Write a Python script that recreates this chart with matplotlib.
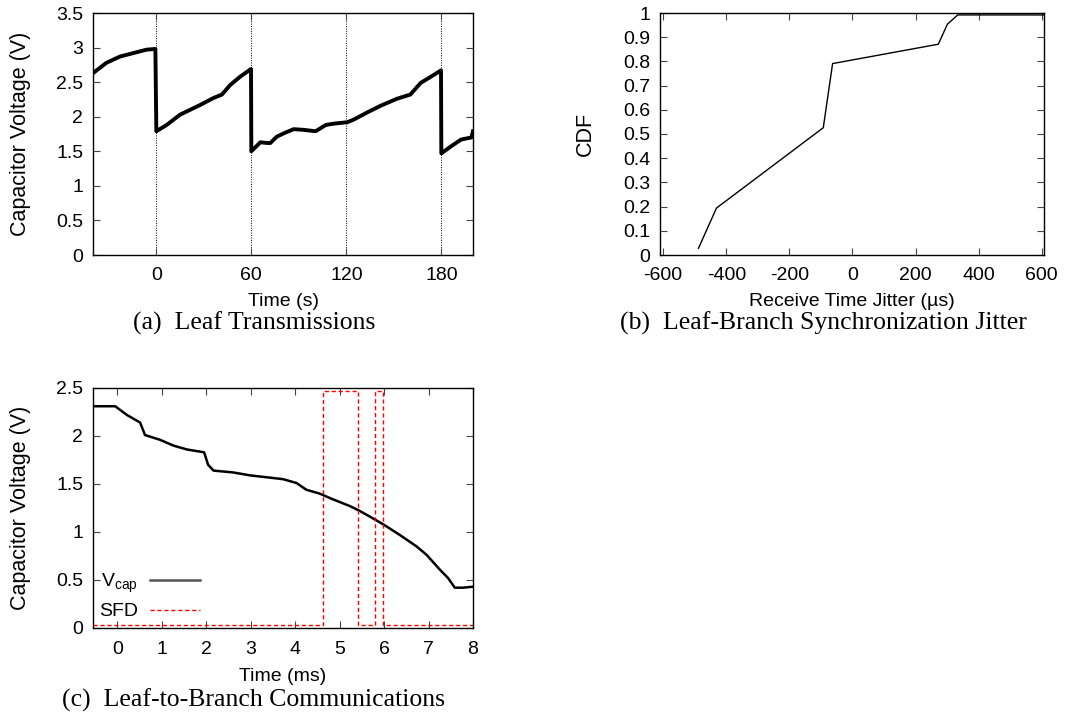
import numpy as np
import matplotlib
matplotlib.use('Agg')
import matplotlib.pyplot as plt

plt.rcParams['font.family'] = ['Liberation Sans', 'DejaVu Sans']
plt.rcParams['axes.unicode_minus'] = False
plt.rcParams['mathtext.fontset'] = 'custom'
plt.rcParams['mathtext.rm'] = 'Liberation Sans'

# (a) leaf transmissions: capacitor voltage vs time (s)
a_time = [-40, -31.5, -23, -14.6, -6.1, -0.6, 0, 6.5, 15, 27.7, 36, 41.4, 46.7, 53, 59.8,
          60, 65.7, 70, 72, 76, 80.5, 86.8, 93, 100.6, 107, 112, 120.6, 124.8, 133, 141.8,
          152, 160.4, 167, 173.5, 179.8, 180, 186, 192.5, 199, 200]
a_volt = [2.63, 2.78, 2.87, 2.92, 2.97, 2.98, 1.79, 1.88, 2.03, 2.17, 2.27, 2.32, 2.46, 2.58, 2.69,
          1.50, 1.63, 1.62, 1.62, 1.71, 1.76, 1.82, 1.81, 1.79, 1.88, 1.90, 1.92, 1.96, 2.06, 2.16,
          2.26, 2.32, 2.49, 2.58, 2.67, 1.47, 1.57, 1.67, 1.70, 1.79]
a_xticks = [0, 60, 120, 180]

# (b) CDF of receive time jitter (us)
b_jitter = [-488, -431, -92.5, -63, 272, 301, 333.5, 607]
b_cdf = [0.028, 0.194, 0.526, 0.791, 0.871, 0.954, 0.992, 0.992]

# (c) leaf-to-branch communications (ms)
c_time = [-0.55, -0.05, 0.21, 0.51, 0.62, 0.96, 1.26, 1.56, 1.95, 2.04, 2.16, 2.61, 2.98, 3.36,
          3.73, 4.03, 4.25, 4.55, 4.85, 5.23, 5.45, 5.68, 5.98, 6.35, 6.73, 6.96, 7.25, 7.44,
          7.59, 7.78, 8.0]
c_vcap = [2.31, 2.31, 2.22, 2.14, 2.01, 1.96, 1.90, 1.86, 1.83, 1.70, 1.64, 1.62, 1.59, 1.57,
          1.55, 1.51, 1.44, 1.40, 1.34, 1.27, 1.22, 1.16, 1.08, 0.97, 0.85, 0.76, 0.61, 0.52,
          0.42, 0.42, 0.43]
sfd_time = [-0.55, 4.62, 4.62, 5.42, 5.42, 5.79, 5.79, 5.98, 5.98, 8.0]
sfd_volt = [0.035, 0.035, 2.465, 2.465, 0.035, 0.035, 2.465, 2.465, 0.035, 0.035]

W, H = 1073, 715
fig = plt.figure(figsize=(W / 100, H / 100), dpi=100)
FS = 14

def px_axes(l, t, r, b):
    return fig.add_axes([l / W, 1 - b / H, (r - l) / W, (b - t) / H])

def gp_style(ax):
    ax.tick_params(direction='in', top=True, right=True, length=5, width=0.8,
                   labelsize=FS, color='#444444')
    ax.tick_params(axis='x', pad=9)
    ax.tick_params(axis='y', pad=7)
    for s in ax.spines.values():
        s.set_linewidth(1.0)

def labels(ax, xl, yl, xy, yx):
    ax.set_xlabel(xl, fontsize=FS, va='center')
    ax.xaxis.set_label_coords(0.5, xy)
    ax.set_ylabel(yl, fontsize=FS + 1.5, va='center')
    ax.yaxis.set_label_coords(yx, 0.5)

# (a)
ax = px_axes(93, 13, 473, 255)
for x in a_xticks:
    ax.axvline(x, color='black', lw=0.7, ls=(0, (1, 1.5)), zorder=1)
ax.plot(a_time, a_volt, color='black', lw=2.8, zorder=2)
ax.set_xlim(-40, 200)
ax.set_ylim(0, 3.5)
ax.set_xticks(a_xticks)
ax.set_yticks(np.arange(0, 3.51, 0.5))
ax.set_yticklabels(['0', '0.5', '1', '1.5', '2', '2.5', '3', '3.5'])
gp_style(ax)
labels(ax, 'Time (s)', 'Capacitor Voltage (V)', -0.194, -0.19)

# (b)
ax = px_axes(660, 13, 1044, 255)
ax.plot(b_jitter, b_cdf, color='black', lw=1.0)
ax.set_xlim(-610, 607)
ax.set_ylim(0, 1)
ax.set_xticks([-600, -400, -200, 0, 200, 400, 600])
ax.set_yticks(np.arange(0, 1.01, 0.1))
ax.set_yticklabels(['0', '0.1', '0.2', '0.3', '0.4', '0.5', '0.6', '0.7', '0.8', '0.9', '1'])
gp_style(ax)
labels(ax, 'Receive Time Jitter (\u00b5s)', 'CDF', -0.194, -0.195)

# (c)
ax = px_axes(93, 388, 473, 628)
ax.plot(c_time, c_vcap, color='black', lw=1.8, label='V$_{\\rm cap}$')
ax.plot(sfd_time, sfd_volt, color='red', lw=1.0, ls=(0, (3, 2)), label='SFD')
ax.set_xlim(-0.55, 8)
ax.set_ylim(0, 2.5)
ax.set_xticks(range(0, 9))
ax.set_yticks(np.arange(0, 2.51, 0.5))
ax.set_yticklabels(['0', '0.5', '1', '1.5', '2', '2.5'])
gp_style(ax)
labels(ax, 'Time (ms)', 'Capacitor Voltage (V)', -0.204, -0.19)
leg = ax.legend(loc='lower left', bbox_to_anchor=(-0.02, -0.025), frameon=False, markerfirst=False,
                fontsize=FS, handlelength=2.6, handletextpad=0.6, borderaxespad=0.3,
                labelspacing=0.4)
leg.get_lines()[0].set_color('#555555')

# captions
cap_font = dict(family='Liberation Serif', fontsize=18.5, ha='center', va='center')
fig.text(254 / W, 1 - 323 / H, '(a)  Leaf Transmissions', **cap_font)
fig.text(823 / W, 1 - 323 / H, '(b)  Leaf-Branch Synchronization Jitter', **cap_font)
fig.text(254 / W, 1 - 700 / H, '(c)  Leaf-to-Branch Communications', **cap_font)

fig.savefig('out.png', dpi=100)
